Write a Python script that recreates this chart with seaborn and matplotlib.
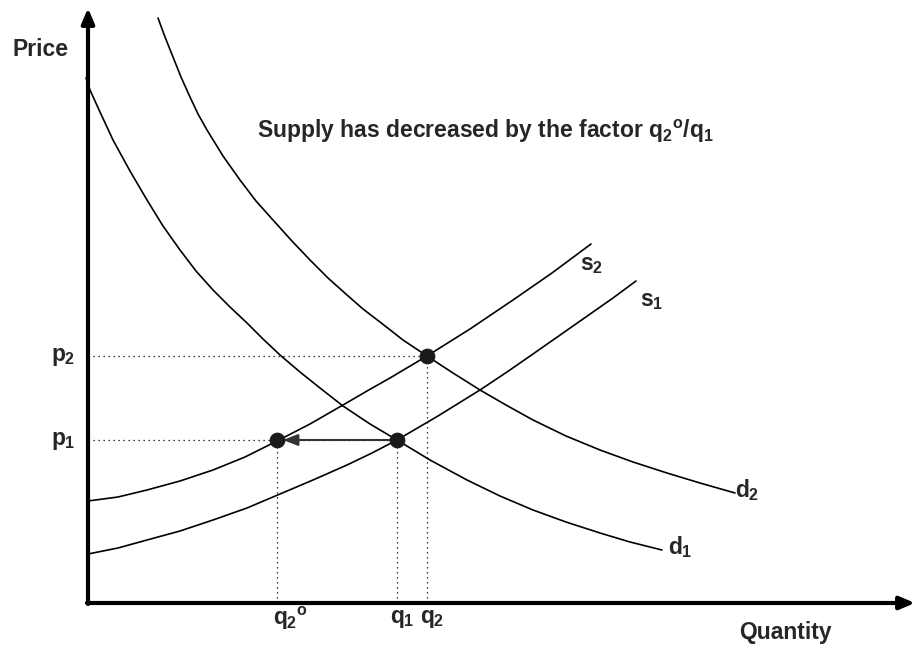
import matplotlib
matplotlib.use("Agg")
import matplotlib.pyplot as plt
import seaborn as sns
import pandas as pd

# curves (quantity, price units = pixels from origin)
d1_q = [-2, 2, 12, 25, 42, 59, 75, 92, 108, 125, 142, 159, 175, 192, 212, 232,
        255, 282, 309, 342, 379, 412, 445, 478, 512, 542, 574]
d1_p = [525, 513, 491, 463, 432, 403, 377, 353, 332, 313, 296, 280, 264, 248, 231, 215,
        197, 179, 163, 143, 123, 107, 93, 81, 70, 61, 53]
d2_q = [70, 77, 85, 93, 102, 110, 119, 135, 152, 168, 185, 203, 222, 240, 259, 275,
        292, 315, 339, 365, 392, 418, 445, 478, 512, 545, 579, 612, 647]
d2_p = [585, 566, 546, 526, 506, 489, 473, 447, 423, 402, 383, 363, 343, 325, 308, 294,
        281, 263, 247, 230, 213, 198, 183, 167, 153, 141, 130, 120, 110]
s1_q = [0, 30, 59, 92, 125, 159, 192, 225, 259, 284, 309, 350, 392, 419, 445, 485, 525, 548]
s1_p = [49, 55, 63, 72, 83, 95, 109, 123, 138, 150, 163, 187, 213, 231, 249, 277, 305, 322]
s2_q = [0, 30, 59, 92, 125, 157, 189, 222, 255, 279, 302, 339, 382, 425, 464, 503]
s2_p = [102, 106, 113, 122, 133, 146, 162, 179, 198, 212, 225, 247, 274, 303, 330, 359]

# equilibrium points
q2o, q1, q2 = 189, 309, 339
p1, p2 = 163, 247
x_max, y_max = 827, 595

sns.set_style("white")
plt.rcParams["font.family"] = ["Liberation Sans", "DejaVu Sans"]
plt.rcParams["font.weight"] = "bold"
plt.rcParams["mathtext.fontset"] = "custom"
plt.rcParams["mathtext.rm"] = "Liberation Sans:bold"
plt.rcParams["mathtext.it"] = "Liberation Sans:bold"
plt.rcParams["mathtext.bf"] = "Liberation Sans:bold"

fig = plt.figure(figsize=(9.15, 6.48), dpi=100)
ax = fig.add_axes([0, 0, 1, 1])
ax.set_xlim(-88, 827)
ax.set_ylim(-45, 603)
ax.axis("off")

curves = [("d1", d1_q, d1_p), ("d2", d2_q, d2_p), ("s1", s1_q, s1_p), ("s2", s2_q, s2_p)]
for name, qs, ps in curves:
    df = pd.DataFrame({"q": qs, "p": ps})
    sns.lineplot(data=df, x="q", y="p", sort=False, estimator=None,
                 color="black", linewidth=1.2, ax=ax)

# dotted guide lines
dot = dict(color="black", linestyle=(0, (1, 3)), linewidth=0.9)
ax.plot([0, q2], [p2, p2], **dot)
ax.plot([0, q1], [p1, p1], **dot)
for q, p in [(q2o, p1), (q1, p1), (q2, p2)]:
    ax.plot([q, q], [0, p], **dot)

# axes with arrow heads
ax.annotate("", xy=(0, y_max), xytext=(0, -1),
            arrowprops=dict(arrowstyle="-|>,head_length=0.9,head_width=0.38",
                            lw=3, color="black", shrinkA=0, shrinkB=0))
ax.annotate("", xy=(x_max, 0), xytext=(-1, 0),
            arrowprops=dict(arrowstyle="-|>,head_length=0.9,head_width=0.38",
                            lw=3, color="black", shrinkA=0, shrinkB=0))

# shift arrow q1 -> q2o
ax.annotate("", xy=(q2o + 6, p1), xytext=(q1, p1),
            arrowprops=dict(arrowstyle="-|>,head_length=0.9,head_width=0.35",
                            lw=1.5, color="#333333", shrinkA=0, shrinkB=0))

pts = pd.DataFrame({"q": [q2o, q1, q2], "p": [p1, p1, p2]})
sns.scatterplot(data=pts, x="q", y="p", s=110, color="#1a1a1a",
                edgecolor="#1a1a1a", zorder=5, ax=ax)

fs = 16.5
ax.text(-76, 553, "Price", fontsize=fs, ha="left", va="center")
ax.text(697, -29, "Quantity", fontsize=fs, ha="center", va="center")
ax.text(-37, p2, "$p_2$", fontsize=fs, ha="left", va="center")
ax.text(-37, p1, "$p_1$", fontsize=fs, ha="left", va="center")
ax.text(q2o - 4, -15, "$q_2{}^o$", fontsize=fs, ha="left", va="center")
ax.text(q1 - 7, -15, "$q_1$", fontsize=fs, ha="left", va="center")
ax.text(q2 - 7, -15, "$q_2$", fontsize=fs, ha="left", va="center")
ax.text(492, 338, "$s_2$", fontsize=fs, ha="left", va="center")
ax.text(552, 303, "$s_1$", fontsize=fs, ha="left", va="center")
ax.text(647, 113, "$d_2$", fontsize=fs, ha="left", va="center")
ax.text(580, 56, "$d_1$", fontsize=fs, ha="left", va="center")
ax.text(169, 472, "Supply has decreased by the factor $q_2{}^o/q_1$",
        fontsize=fs, ha="left", va="center")

fig.savefig("out.png", dpi=100)
